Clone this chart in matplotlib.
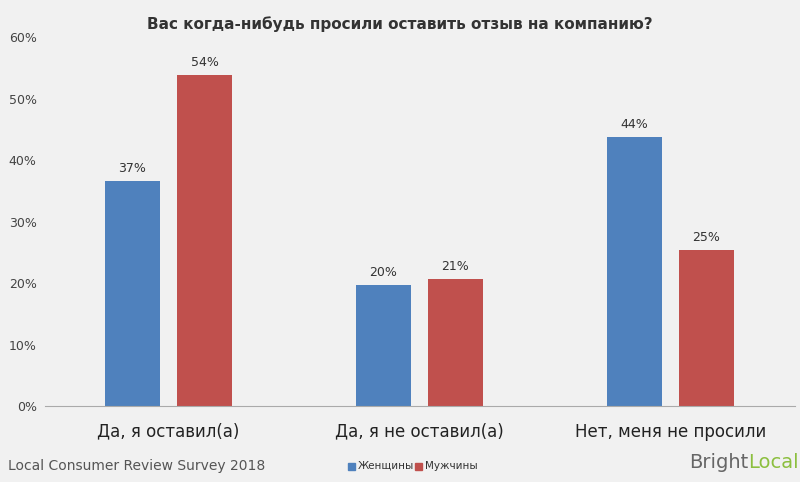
import matplotlib
matplotlib.use("Agg")
import matplotlib.pyplot as plt
import numpy as np

categories = ["Да, я оставил(а)", "Да, я не оставил(а)", "Нет, меня не просили"]
women = [36.6, 19.6, 43.7]
men = [53.8, 20.6, 25.4]
women_labels = ["37%", "20%", "44%"]
men_labels = ["54%", "21%", "25%"]
yticks = [0, 10, 20, 30, 40, 50, 60]

bg = "#f1f1f1"
blue = "#4f81bd"
red = "#c0504d"
fig = plt.figure(figsize=(8, 4.82), dpi=100, facecolor=bg)
ax = fig.add_axes([45/800, 1-406/482, 750/800, 369/482], facecolor=bg)
x = np.arange(len(categories))
w = 55/251
off = 36/251
b1 = ax.bar(x-off, women, w, color=blue)
b2 = ax.bar(x+off, men, w, color=red)
for bars, labs in ((b1, women_labels), (b2, men_labels)):
    for b, l in zip(bars, labs):
        ax.text(b.get_x()+b.get_width()/2, b.get_height()+1.0, l, ha="center", va="bottom", fontsize=9, color="#333333")
ax.set_xlim(-0.492, 2.496)
ax.set_ylim(0, 60)
ax.set_yticks(yticks)
ax.set_yticklabels([f"{t}%" for t in yticks], fontsize=9, color="#444444")
ax.set_xticks(x)
ax.set_xticklabels(categories, fontsize=12, color="#222222")
ax.tick_params(length=0, pad=12, axis="x")
ax.tick_params(length=0, pad=6, axis="y")
for s in ["top", "right", "left"]:
    ax.spines[s].set_visible(False)
ax.spines["bottom"].set_color("#aaaaaa")
fig.text(0.5, 1-24/482, "Вас когда-нибудь просили оставить отзыв на компанию?", ha="center", va="center",
         fontsize=11, fontweight="bold", color="#333333")
fig.text(8/800, 1-466/482, "Local Consumer Review Survey 2018", ha="left", va="center", fontsize=10, color="#555555")
fig.patches.append(matplotlib.patches.Rectangle((348/800, 1-470/482), 7/800, 7/482, color=blue, transform=fig.transFigure))
fig.text(358/800, 1-466/482, "Женщины", fontsize=7.5, va="center", color="#333333")
fig.patches.append(matplotlib.patches.Rectangle((415/800, 1-470/482), 7/800, 7/482, color=red, transform=fig.transFigure))
fig.text(425/800, 1-466/482, "Мужчины", fontsize=7.5, va="center", color="#333333")
fig.text(748/800, 1-463/482, "Bright", fontsize=14, va="center", ha="right", color="#666666")
fig.text(748/800, 1-463/482, "Local", fontsize=14, va="center", ha="left", color="#8cbf3f")
fig.savefig("out.png", dpi=100, facecolor=bg)
